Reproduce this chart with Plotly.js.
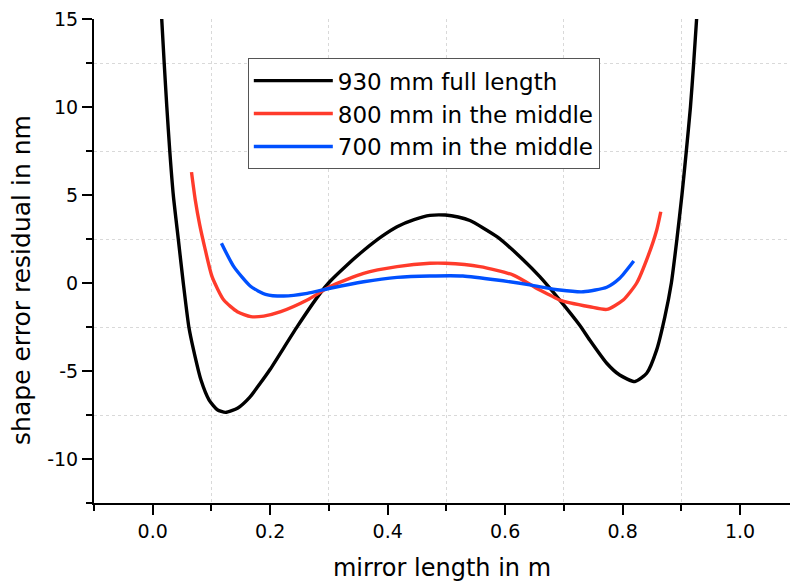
<!DOCTYPE html>
<html>
<head>
<meta charset="utf-8">
<script src="https://cdn.plot.ly/plotly-3.0.1.min.js"></script>
<style>html,body{margin:0;padding:0;background:#fff;}</style>
</head>
<body>
<div id="chart" style="width:790px;height:585px;"></div>
<script>
// 930 mm full length
const xFull = [0.0153, 0.0195, 0.024, 0.029, 0.035, 0.0435, 0.052, 0.0615, 0.0695, 0.082, 0.096, 0.110, 0.124, 0.145, 0.165, 0.183, 0.200, 0.246, 0.285, 0.302, 0.330, 0.359, 0.390, 0.416, 0.445, 0.472, 0.498, 0.520, 0.540, 0.586, 0.631, 0.659, 0.693, 0.727, 0.744, 0.773, 0.795, 0.821, 0.841, 0.858, 0.872, 0.883, 0.8925, 0.901, 0.9085, 0.9155, 0.921, 0.926];
const yFull = [15.0, 12.5, 10.0, 7.5, 5.0, 2.5, 0.0, -2.5, -3.8, -5.5, -6.65, -7.2, -7.35, -7.1, -6.5, -5.7, -4.9, -2.48, -0.59, 0.1, 1.0, 1.85, 2.65, 3.2, 3.6, 3.84, 3.86, 3.75, 3.55, 2.63, 1.31, 0.36, -0.97, -2.4, -3.24, -4.56, -5.23, -5.6, -5.13, -3.8, -1.91, 0.0, 2.5, 5.0, 7.5, 10.0, 12.5, 15.0];
// 800 mm in the middle
const xMid800 = [0.066, 0.0725, 0.080, 0.088, 0.101, 0.121, 0.144, 0.167, 0.189, 0.218, 0.263, 0.302, 0.359, 0.416, 0.472, 0.498, 0.557, 0.614, 0.659, 0.676, 0.693, 0.744, 0.773, 0.801, 0.824, 0.843, 0.858, 0.865];
const yMid800 = [6.3, 4.7, 3.3, 2.1, 0.36, -0.97, -1.63, -1.91, -1.88, -1.63, -0.97, -0.2, 0.55, 0.93, 1.12, 1.12, 0.93, 0.45, -0.4, -0.68, -0.97, -1.35, -1.5, -0.97, 0.0, 1.5, 3.0, 4.05];
// 700 mm in the middle
const xMid700 = [0.117, 0.138, 0.167, 0.192, 0.223, 0.263, 0.302, 0.359, 0.416, 0.472, 0.528, 0.586, 0.642, 0.693, 0.733, 0.773, 0.795, 0.819];
const yMid700 = [2.26, 0.93, -0.2, -0.64, -0.74, -0.59, -0.3, 0.07, 0.32, 0.4, 0.4, 0.17, -0.11, -0.4, -0.5, -0.24, 0.27, 1.25];

const seriesNames = ['930 mm full length', '800 mm in the middle', '700 mm in the middle'];
const xTickVals = [0.0, 0.2, 0.4, 0.6, 0.8, 1.0];
const xTickText = ['0.0', '0.2', '0.4', '0.6', '0.8', '1.0'];
const yTickVals = [-10, -5, 0, 5, 10, 15];
const yTickText = ['-10', '-5', '0', '5', '10', '15'];
const xTitle = 'mirror length in m';
const yTitle = 'shape error residual in nm';

const FONT = 'DejaVu Sans, Arial, sans-serif';

const traces = [
  {x: xFull, y: yFull, name: seriesNames[0], mode: 'lines', line: {color: '#000000', width: 3.4, shape: 'spline', smoothing: 0.6}},
  {x: xMid800, y: yMid800, name: seriesNames[1], mode: 'lines', line: {color: '#ff3b2b', width: 3.4, shape: 'spline', smoothing: 0.6}},
  {x: xMid700, y: yMid700, name: seriesNames[2], mode: 'lines', line: {color: '#0050ff', width: 3.4, shape: 'spline', smoothing: 0.6}}
];

const axisCommon = {
  showline: true, linecolor: '#000', linewidth: 2,
  ticks: 'outside', ticklen: 10, tickwidth: 2, tickcolor: '#000',
  showgrid: false, zeroline: false,
  tickfont: {family: FONT, size: 19, color: '#000'}
};

const layout = {
  width: 790, height: 585,
  paper_bgcolor: '#fff', plot_bgcolor: '#fff',
  margin: {l: 94, r: 0, t: 19, b: 82, pad: 0},
  showlegend: true,
  legend: {
    x: 0.221, y: 0.919, xanchor: 'left', yanchor: 'top',
    bgcolor: '#fff', bordercolor: '#555', borderwidth: 1,
    font: {family: FONT, size: 23, color: '#000'},
    itemwidth: 79,
    tracegroupgap: 0
  },
  xaxis: Object.assign({}, axisCommon, {
    range: [-0.1, 1.085],
    tickmode: 'array', tickvals: xTickVals, ticktext: xTickText,
    minor: {tick0: 0.1, dtick: 0.2, ticks: 'outside', ticklen: 6, tickwidth: 2, tickcolor: '#000', showgrid: true, gridcolor: '#d9d9d9', gridwidth: 1, griddash: 'dot'},
    title: {text: xTitle, font: {family: FONT, size: 24, color: '#000'}, standoff: 18}
  }),
  yaxis: Object.assign({}, axisCommon, {
    range: [-12.5, 15],
    tickmode: 'array', tickvals: yTickVals, ticktext: yTickText,
    minor: {tick0: 2.5, dtick: 5, ticks: 'outside', ticklen: 6, tickwidth: 2, tickcolor: '#000', showgrid: true, gridcolor: '#d9d9d9', gridwidth: 1, griddash: 'dot'},
    title: {text: ''}
  }),
  annotations: [{
    text: yTitle, textangle: -90, showarrow: false,
    xref: 'paper', yref: 'paper', x: -0.1034, y: 0.461,
    xanchor: 'center', yanchor: 'middle',
    font: {family: FONT, size: 25, color: '#000'}
  }]
};

Plotly.newPlot('chart', traces, layout, {displayModeBar: false, staticPlot: true});
</script>
</body>
</html>
